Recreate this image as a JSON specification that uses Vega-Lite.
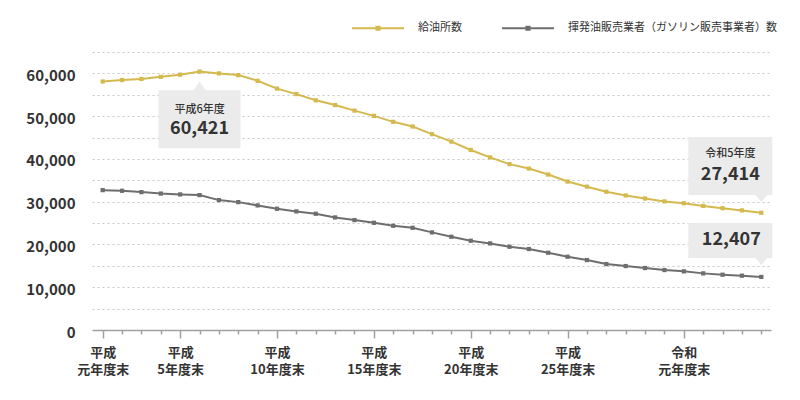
{
  "$schema": "https://vega.github.io/schema/vega-lite/v6.json",
  "width": 679,
  "height": 278,
  "autosize": {"type": "none"},
  "padding": {"left": 92, "top": 52, "right": 29, "bottom": 70},
  "background": "white",
  "config": {
    "view": {"stroke": null},
    "font": "Noto Sans CJK JP"
  },
  "datasets": {
    "stations": [
      {"year": 1989, "series": "給油所数", "value": 58100},
      {"year": 1990, "series": "給油所数", "value": 58450},
      {"year": 1991, "series": "給油所数", "value": 58700},
      {"year": 1992, "series": "給油所数", "value": 59200},
      {"year": 1993, "series": "給油所数", "value": 59700},
      {"year": 1994, "series": "給油所数", "value": 60421},
      {"year": 1995, "series": "給油所数", "value": 60000},
      {"year": 1996, "series": "給油所数", "value": 59600},
      {"year": 1997, "series": "給油所数", "value": 58263},
      {"year": 1998, "series": "給油所数", "value": 56444},
      {"year": 1999, "series": "給油所数", "value": 55153},
      {"year": 2000, "series": "給油所数", "value": 53704},
      {"year": 2001, "series": "給油所数", "value": 52592},
      {"year": 2002, "series": "給油所数", "value": 51294},
      {"year": 2003, "series": "給油所数", "value": 50067},
      {"year": 2004, "series": "給油所数", "value": 48672},
      {"year": 2005, "series": "給油所数", "value": 47584},
      {"year": 2006, "series": "給油所数", "value": 45792},
      {"year": 2007, "series": "給油所数", "value": 44057},
      {"year": 2008, "series": "給油所数", "value": 42090},
      {"year": 2009, "series": "給油所数", "value": 40357},
      {"year": 2010, "series": "給油所数", "value": 38777},
      {"year": 2011, "series": "給油所数", "value": 37743},
      {"year": 2012, "series": "給油所数", "value": 36349},
      {"year": 2013, "series": "給油所数", "value": 34706},
      {"year": 2014, "series": "給油所数", "value": 33510},
      {"year": 2015, "series": "給油所数", "value": 32333},
      {"year": 2016, "series": "給油所数", "value": 31467},
      {"year": 2017, "series": "給油所数", "value": 30747},
      {"year": 2018, "series": "給油所数", "value": 30070},
      {"year": 2019, "series": "給油所数", "value": 29637},
      {"year": 2020, "series": "給油所数", "value": 29005},
      {"year": 2021, "series": "給油所数", "value": 28475},
      {"year": 2022, "series": "給油所数", "value": 27963},
      {"year": 2023, "series": "給油所数", "value": 27414},
      {"year": 1989, "series": "揮発油販売業者（ガソリン販売事業者）数", "value": 32700},
      {"year": 1990, "series": "揮発油販売業者（ガソリン販売事業者）数", "value": 32550},
      {"year": 1991, "series": "揮発油販売業者（ガソリン販売事業者）数", "value": 32240},
      {"year": 1992, "series": "揮発油販売業者（ガソリン販売事業者）数", "value": 31900},
      {"year": 1993, "series": "揮発油販売業者（ガソリン販売事業者）数", "value": 31700},
      {"year": 1994, "series": "揮発油販売業者（ガソリン販売事業者）数", "value": 31540},
      {"year": 1995, "series": "揮発油販売業者（ガソリン販売事業者）数", "value": 30370},
      {"year": 1996, "series": "揮発油販売業者（ガソリン販売事業者）数", "value": 29900},
      {"year": 1997, "series": "揮発油販売業者（ガソリン販売事業者）数", "value": 29130},
      {"year": 1998, "series": "揮発油販売業者（ガソリン販売事業者）数", "value": 28350},
      {"year": 1999, "series": "揮発油販売業者（ガソリン販売事業者）数", "value": 27730},
      {"year": 2000, "series": "揮発油販売業者（ガソリン販売事業者）数", "value": 27180},
      {"year": 2001, "series": "揮発油販売業者（ガソリン販売事業者）数", "value": 26320},
      {"year": 2002, "series": "揮発油販売業者（ガソリン販売事業者）数", "value": 25700},
      {"year": 2003, "series": "揮発油販売業者（ガソリン販売事業者）数", "value": 25070},
      {"year": 2004, "series": "揮発油販売業者（ガソリン販売事業者）数", "value": 24370},
      {"year": 2005, "series": "揮発油販売業者（ガソリン販売事業者）数", "value": 23900},
      {"year": 2006, "series": "揮発油販売業者（ガソリン販売事業者）数", "value": 22820},
      {"year": 2007, "series": "揮発油販売業者（ガソリン販売事業者）数", "value": 21800},
      {"year": 2008, "series": "揮発油販売業者（ガソリン販売事業者）数", "value": 20870},
      {"year": 2009, "series": "揮発油販売業者（ガソリン販売事業者）数", "value": 20250},
      {"year": 2010, "series": "揮発油販売業者（ガソリン販売事業者）数", "value": 19470},
      {"year": 2011, "series": "揮発油販売業者（ガソリン販売事業者）数", "value": 18930},
      {"year": 2012, "series": "揮発油販売業者（ガソリン販売事業者）数", "value": 18060},
      {"year": 2013, "series": "揮発油販売業者（ガソリン販売事業者）数", "value": 17130},
      {"year": 2014, "series": "揮発油販売業者（ガソリン販売事業者）数", "value": 16350},
      {"year": 2015, "series": "揮発油販売業者（ガソリン販売事業者）数", "value": 15420},
      {"year": 2016, "series": "揮発油販売業者（ガソリン販売事業者）数", "value": 14950},
      {"year": 2017, "series": "揮発油販売業者（ガソリン販売事業者）数", "value": 14490},
      {"year": 2018, "series": "揮発油販売業者（ガソリン販売事業者）数", "value": 14020},
      {"year": 2019, "series": "揮発油販売業者（ガソリン販売事業者）数", "value": 13710},
      {"year": 2020, "series": "揮発油販売業者（ガソリン販売事業者）数", "value": 13240},
      {"year": 2021, "series": "揮発油販売業者（ガソリン販売事業者）数", "value": 12930},
      {"year": 2022, "series": "揮発油販売業者（ガソリン販売事業者）数", "value": 12700},
      {"year": 2023, "series": "揮発油販売業者（ガソリン販売事業者）数", "value": 12407}
    ],
    "notes": [
      {"year": 1994, "value": 60421, "box": "a", "title": "平成6年度", "num": "60,421"},
      {"year": 2023, "value": 27414, "box": "b", "title": "令和5年度", "num": "27,414"},
      {"year": 2023, "value": 12407, "box": "c", "title": "", "num": "12,407"}
    ]
  },
  "encoding": {
    "x": {
      "field": "year",
      "type": "quantitative",
      "scale": {"domain": [1988.45, 2023.5], "nice": false, "zero": false},
      "axis": {
        "title": null,
        "grid": false,
        "values": [1989, 1990, 1991, 1992, 1993, 1994, 1995, 1996, 1997, 1998, 1999, 2000, 2001, 2002, 2003, 2004, 2005, 2006, 2007, 2008, 2009, 2010, 2011, 2012, 2013, 2014, 2015, 2016, 2017, 2018, 2019, 2020, 2021, 2022, 2023],
        "labelExpr": "datum.value == 1989 ? ['平成', '元年度末'] : datum.value == 1993 ? ['平成', '5年度末'] : datum.value == 1998 ? ['平成', '10年度末'] : datum.value == 2003 ? ['平成', '15年度末'] : datum.value == 2008 ? ['平成', '20年度末'] : datum.value == 2013 ? ['平成', '25年度末'] : datum.value == 2019 ? ['令和', '元年度末'] : ''",
        "labelOverlap": false,
        "labelFlush": false,
        "labelFontSize": 13,
        "labelFontWeight": 600,
        "labelColor": "#333333",
        "labelLineHeight": 17,
        "labelPadding": 8,
        "domainColor": "#a0a0a0",
        "domainWidth": 1.5,
        "tickColor": "#a0a0a0",
        "tickWidth": 1.5,
        "tickSize": {"condition": {"test": "indexof([1989, 1993, 1998, 2003, 2008, 2013, 2019], datum.value) >= 0", "value": 8}, "value": 4}
      }
    },
    "y": {
      "field": "value",
      "type": "quantitative",
      "scale": {"domain": [0, 65000], "nice": false},
      "axis": {
        "title": null,
        "values": [0, 5000, 10000, 15000, 20000, 25000, 30000, 35000, 40000, 45000, 50000, 55000, 60000, 65000],
        "labelExpr": "datum.value % 10000 == 0 ? format(datum.value, ',') : ''",
        "domain": false,
        "ticks": false,
        "labelPadding": 17,
        "labelOffset": 2,
        "labelFontSize": 15,
        "labelFontWeight": 600,
        "labelColor": "#333333",
        "gridColor": {"condition": {"test": "datum.value == 0", "value": "transparent"}, "value": "#c8c8c8"},
        "gridDash": [2, 3],
        "gridWidth": 1.2
      }
    }
  },
  "layer": [
    {
      "data": {"name": "stations"},
      "mark": {"type": "line", "strokeWidth": 2, "point": {"shape": "square", "size": 18, "filled": true}},
      "encoding": {
        "color": {
          "field": "series",
          "type": "nominal",
          "scale": {"domain": ["給油所数", "揮発油販売業者（ガソリン販売事業者）数"], "range": ["#d4b94f", "#6e6e6e"]},
          "legend": {
            "title": null,
            "orient": "none",
            "legendX": 259,
            "legendY": -51,
            "direction": "horizontal",
            "symbolType": "M -1 0 H 1 M -0.06 -0.06 H 0.06 V 0.06 H -0.06 Z",
            "symbolSize": 2704,
            "symbolStrokeWidth": 2,
            "labelFontSize": 11,
            "labelColor": "#333333",
            "labelOffset": 13,
            "labelLimit": 400,
            "columnPadding": 36
          }
        }
      }
    },
    {
      "data": {"name": "notes"},
      "transform": [{"filter": "datum.box == 'a'"}],
      "mark": {"type": "point", "shape": "M -0.976 0.443 L -0.143 0.443 L 0 0.229 L 0.143 0.443 L 0.976 0.443 L 0.976 1.824 L -0.976 1.824 Z", "size": 7056, "filled": true, "fill": "#ebebeb", "opacity": 1, "strokeWidth": 0}
    },
    {
      "data": {"name": "notes"},
      "transform": [{"filter": "datum.box == 'b'"}],
      "mark": {"type": "point", "shape": "M -1.738 -1.802 L 0.262 -1.802 L 0.262 -0.421 L 0.143 -0.421 L 0 -0.255 L -0.143 -0.421 L -1.738 -0.421 Z", "size": 7056, "filled": true, "fill": "#ebebeb", "opacity": 1, "strokeWidth": 0}
    },
    {
      "data": {"name": "notes"},
      "transform": [{"filter": "datum.box == 'c'"}],
      "mark": {"type": "point", "shape": "M -1.738 -1.283 L 0.262 -1.283 L 0.262 -0.45 L 0.143 -0.45 L 0 -0.283 L -0.143 -0.45 L -1.738 -0.45 Z", "size": 7056, "filled": true, "fill": "#ebebeb", "opacity": 1, "strokeWidth": 0}
    },
    {
      "data": {"name": "notes"},
      "transform": [{"filter": "datum.box == 'a'"}],
      "mark": {"type": "text", "dy": 38, "baseline": "middle", "align": "center", "fontSize": 11, "fontWeight": 500, "color": "#333333"},
      "encoding": {"text": {"field": "title"}}
    },
    {
      "data": {"name": "notes"},
      "transform": [{"filter": "datum.box == 'a'"}],
      "mark": {"type": "text", "dy": 57, "baseline": "middle", "align": "center", "fontSize": 18, "fontWeight": 600, "color": "#333333"},
      "encoding": {"text": {"field": "num"}}
    },
    {
      "data": {"name": "notes"},
      "transform": [{"filter": "datum.box == 'b'"}],
      "mark": {"type": "text", "dx": -31, "dy": -58.5, "baseline": "middle", "align": "center", "fontSize": 11, "fontWeight": 500, "color": "#333333"},
      "encoding": {"text": {"field": "title"}}
    },
    {
      "data": {"name": "notes"},
      "transform": [{"filter": "datum.box == 'b'"}],
      "mark": {"type": "text", "dx": -31, "dy": -37.5, "baseline": "middle", "align": "center", "fontSize": 18, "fontWeight": 600, "color": "#333333"},
      "encoding": {"text": {"field": "num"}}
    },
    {
      "data": {"name": "notes"},
      "transform": [{"filter": "datum.box == 'c'"}],
      "mark": {"type": "text", "dx": -30, "dy": -37, "baseline": "middle", "align": "center", "fontSize": 18, "fontWeight": 600, "color": "#333333"},
      "encoding": {"text": {"field": "num"}}
    }
  ]
}
